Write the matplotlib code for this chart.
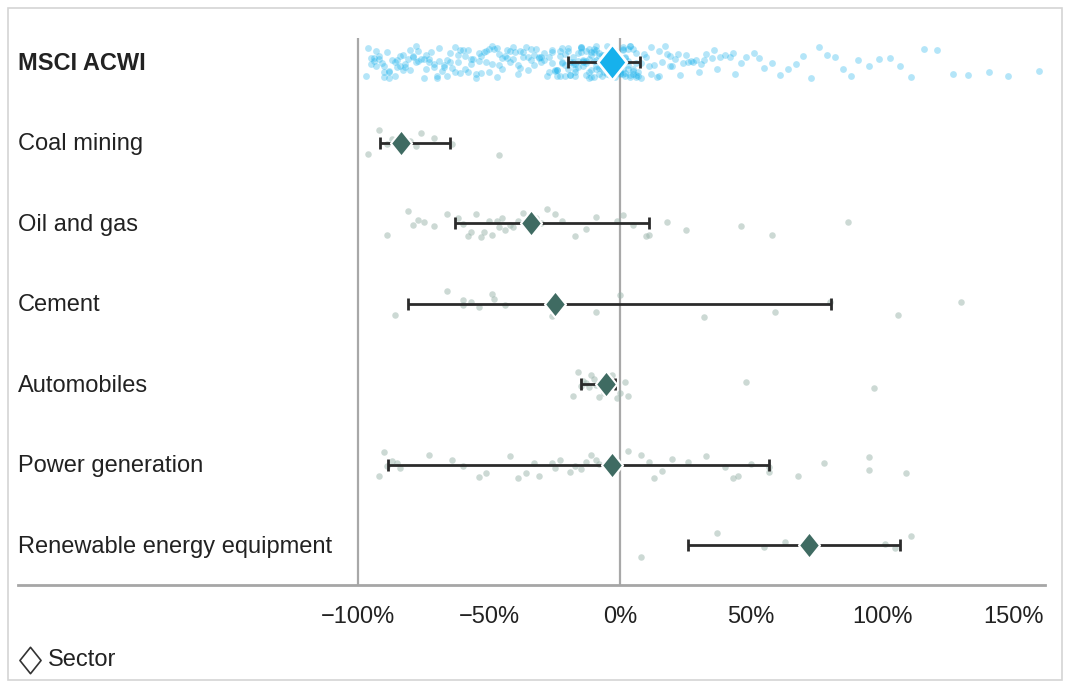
import numpy as np
import matplotlib.pyplot as plt
from matplotlib.lines import Line2D
from matplotlib.path import Path
from matplotlib.patches import Rectangle

plt.rcParams['font.family'] = ['Liberation Sans Narrow', 'Liberation Sans', 'DejaVu Sans']

# ---------------- data (returns in %) ----------------
rows = ['MSCI ACWI', 'Coal mining', 'Oil and gas', 'Cement', 'Automobiles',
        'Power generation', 'Renewable energy equipment']

# sector median (diamond) and error bar range
medians = [-3, -83.5, -34, -25, -5.5, -3, 72]
bar_low = [-20, -91.5, -63, -81, -15, -88.5, 26]
bar_high = [7.5, -65, 11, 80.5, -2, 57, 107]

acwi_pts = [
    -97, -96, -95, -95, -94, -93, -93, -92, -91, -90, -90, -89, -88, -88, -87, -86, -85, -85,
    -84, -83, -82, -82, -81, -80, -79, -78, -78, -77, -76, -75, -74, -74, -73, -72, -71, -70,
    -70, -69, -68, -67, -66, -66, -65, -64, -63, -62, -62, -61, -60, -59, -58, -58, -57, -56,
    -55, -54, -54, -53, -52, -51, -50, -50, -49, -48, -47, -46, -46, -45, -44, -43, -42, -42,
    -41, -40, -39, -38, -38, -37, -36, -35, -34, -34, -33, -32, -31, -30, -30, -29, -28, -27,
    -26, -26, -25, -25, -24, -24, -23, -22, -22, -21, -21, -20, -20, -19, -19, -18, -18, -17,
    -17, -16, -16, -15, -15, -14, -14, -13, -13, -12, -12, -11, -11, -10, -10, -9, -9, -8, -8,
    -7, -7, -6, -6, -5, -5, -4, -4, -3, -3, -2, -2, -1, -1, 0, 0, 1, 1, 2, 2, 3, 3, 4, 4, 5, 5,
    6, 6, 7, 8, 9, 10, -19, -17, -15, -13, -11, -9, -7, -5, -3, -1, 1, 3, 5, 7, -18, -14, -10,
    -6, -2, 2, 6, -16, -8, 0, 4, -12, -4, -20, -6, 1, -9, -15, -3, 3, -11, -7, -1, 5, -13,
    -10, -5, -2, 0, 2, -8, -4, -1, 1, 4, -14, -6, -3, -17, -12, -7, 6, 8, -9, -5,
    -94, -90, -86, -83, -80, -77, -73, -69, -65, -61, -57, -53, -49, -45, -41, -37, -33, -29,
    -92, -84, -75, -67, -59, -51, -43, -35, -27, -24, -23, -22, -21,
    -88, -79, -71, -63, -55, -47, -39, -31, -26, -23,
    11, 12, 13, 14, 15, 16, 17, 18, 19, 20, 21, 22, 24, 25, 26, 28, 29, 30, 32, 33, 35, 36,
    38, 40, 42, 44, 46, 48, 51, 53, 55, 58, 61, 64, 67, 70, 73, 76, 79, 12, 15, 19, 23, 27,
    31, 37, 43,
    82, 85, 88, 91, 95, 99, 103, 107, 111, 116, 121, 127, 133, 141, 148, 160]
coal_pts = [-96, -92, -89, -87, -80, -78, -76, -71, -64, -46]
oil_pts = [-89, -81, -79, -77, -75, -71, -66, -62, -60, -58, -57, -55, -53, -52, -50, -49,
           -47, -46, -45, -44, -42, -41, -39, -37, -32, -30, -28, -25, -22, -17, -13, -9,
           -1, 1, 5, 10, 11, 18, 25, 46, 58, 87]
cement_pts = [-86, -66, -60, -60, -57, -54, -49, -48, -44, -26, -9, 0, 32, 59, 80, 106, 130]
auto_pts = [-18, -16, -15, -14, -13, -12, -11, -10, -9, -8, -6, -3, -1, 0, 2, 3, 48, 97]
power_pts = [-92, -90, -89, -87, -85, -84, -73, -64, -60, -54, -51, -42, -39, -36, -33,
             -31, -26, -25, -23, -19, -17, -15, -13, -11, -9, -8, 3, 8, 11, 13, 16, 20, 26,
             33, 40, 43, 45, 50, 57, 57, 68, 78, 95, 95, 109]
renew_pts = [8, 37, 55, 63, 101, 105, 111]
points = [acwi_pts, coal_pts, oil_pts, cement_pts, auto_pts, power_pts, renew_pts]

xticks = [-100, -50, 0, 50, 100, 150]
xticklabels = ['\u2212100%', '\u221250%', '0%', '50%', '100%', '150%']

# ---------------- figure ----------------
W, H = 1069, 684
fig = plt.figure(figsize=(W / 100, H / 100), dpi=100)
fig.patch.set_facecolor('white')
fig.add_artist(Rectangle((8 / W, 4 / H), 1054 / W, 672 / H, transform=fig.transFigure,
                         fill=False, edgecolor='#d4d4d4', linewidth=1.2))

left, right, top, bottom = 18, 1045, 38, 585
ax = fig.add_axes([left / W, 1 - bottom / H, (right - left) / W, (bottom - top) / H])

px_per_pct = 2.62
ax.set_xlim((left - 620) / px_per_pct, (right - 620) / px_per_pct)
ax.set_ylim((bottom - 62) / 80.5, (top - 62) / 80.5)

for s in ['top', 'right', 'left']:
    ax.spines[s].set_visible(False)
ax.spines['bottom'].set_color('#a6a6a6')
ax.spines['bottom'].set_linewidth(2)

ax.axvline(-100, color='#a8a8a8', lw=1.6, zorder=1)
ax.axvline(0, color='#a8a8a8', lw=1.6, zorder=1)

ax.set_yticks([])
ax.set_xticks(xticks)
ax.set_xticklabels(xticklabels, fontsize=17, color='#222222')
ax.tick_params(axis='x', length=0, pad=15)

diamond = Path([(0, 1), (0.8, 0), (0, -1), (-0.8, 0), (0, 1)],
               [Path.MOVETO, Path.LINETO, Path.LINETO, Path.LINETO, Path.CLOSEPOLY])

green = '#3f6b62'
blue = '#16b1ec'


def jitter(n, amp):
    # deterministic hash-style vertical spread (positions only)
    k = np.arange(n) + 1.0
    h = np.sin(k * 12.9898) * 43758.5453
    return (h - np.floor(h) - 0.5) * amp


for i, (name, pts) in enumerate(zip(rows, points)):
    n = len(pts)
    err = [[medians[i] - bar_low[i]], [bar_high[i] - medians[i]]]
    if i == 0:
        ax.scatter(pts, i + jitter(n, 0.40), s=24, color=blue, alpha=0.32, linewidths=0, zorder=2)
        ax.errorbar(medians[i], i, xerr=err, fmt='none', ecolor='#2b2b2b',
                    elinewidth=2, capsize=4, capthick=2, zorder=3)
        ax.plot(medians[i], i, marker=diamond, markersize=26, color=blue,
                markeredgecolor='white', markeredgewidth=2, zorder=4)
    else:
        ax.scatter(pts, i + jitter(n, 0.34), s=22, color='#9ab4ab', alpha=0.5, linewidths=0, zorder=2)
        ax.errorbar(medians[i], i, xerr=err, fmt='none', ecolor='#2b2b2b',
                    elinewidth=2, capsize=4, capthick=2, zorder=3)
        ax.plot(medians[i], i, marker=diamond, markersize=19, color=green,
                markeredgecolor='white', markeredgewidth=1.5, zorder=4)
    ax.text(0.0, i + 0.02, name, transform=ax.get_yaxis_transform(), ha='left', va='center',
            fontsize=17, color='#222222', fontweight='bold' if i == 0 else 'normal')

# legend
fig.add_artist(Line2D([30 / W], [1 - 660 / H], marker=diamond, markersize=19,
                      markerfacecolor='white', markeredgecolor='#333333',
                      markeredgewidth=1.2, transform=fig.transFigure, linestyle='none'))
fig.text(48 / W, 1 - 660 / H, 'Sector', ha='left', va='center', fontsize=17, color='#222222')

fig.savefig('out.png', dpi=100, facecolor='white')
